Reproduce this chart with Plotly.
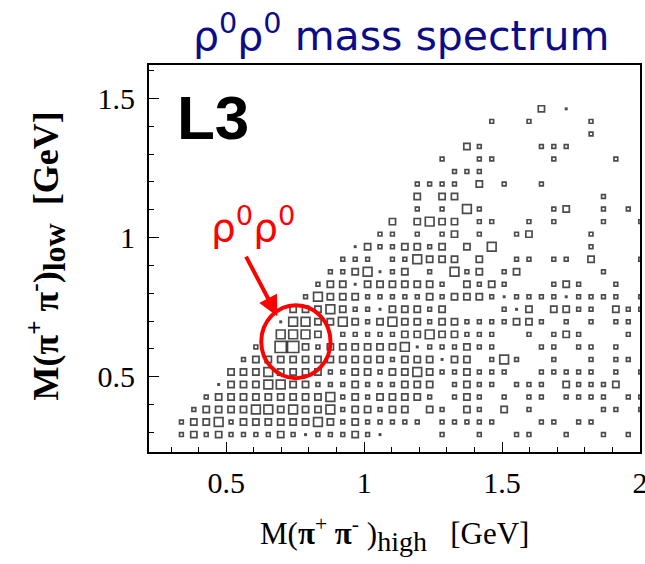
import plotly.graph_objects as go

# ---------------- data ----------------
# 2D histogram: bins of width 0.045 GeV starting at 0.225 GeV on both axes.
BIN_EDGE0 = 0.225
BIN_W = 0.045
# counts per bin; one string per row of M_low (row index starts at 1),
# 40 columns of M_high; "." = empty bin
COUNT_ROWS = [
    ". . 2 3 2 3 2 2 2 2 3 2 1 2 2 2 3 2 1 . . . . 2 . . 2 . . 2 2 . . 2 . . 2 . 2 .",  # row 1
    ". . 2 3 3 4 2 3 3 3 3 3 3 4 3 2 3 2 2 2 2 2 . 2 2 2 2 2 . . . 2 2 . 2 2 . . . .",  # row 2
    ". . . 2 3 3 3 3 4 4 3 4 3 3 4 2 3 3 2 3 3 . 3 2 . 3 2 . 3 . 2 . . . . . 2 2 . 2",  # row 3
    ". . . . 2 3 3 3 3 3 3 3 3 3 4 2 3 2 3 3 3 3 2 . 2 3 2 . 2 . 2 2 . 2 2 2 2 . 2 2",  # row 4
    ". . . . . 1 3 3 3 4 4 3 3 2 2 2 3 2 2 2 3 3 3 . 2 3 2 2 . 2 2 2 . 3 2 2 2 3 . .",  # row 5
    ". . . . . . 3 3 3 4 3 3 3 3 2 2 3 3 2 3 3 4 3 2 2 3 2 2 2 . . 2 2 2 2 2 . 2 . 2",  # row 6
    ". . . . . . . 2 3 3 3 3 3 3 3 3 3 3 3 2 3 3 3 1 3 3 . 2 4 2 . . 2 . . 2 . 2 2 .",  # row 7
    ". . . . . . . . 2 . 5 5 3 2 3 3 3 3 3 3 4 1 2 2 2 3 2 2 . . . 2 2 . 2 2 . 2 . .",  # row 8
    ". . . . . . . . . . 4 4 4 3 . 2 2 2 2 2 3 3 4 3 3 2 2 2 . . 2 . 2 3 2 . . . 2 .",  # row 9
    ". . . . . . . . . . 1 4 4 3 3 4 3 2 3 4 3 3 2 3 3 2 2 2 2 3 3 2 . 2 . 2 . 2 2 .",  # row 10
    ". . . . . . . . . . . 3 3 3 4 3 2 2 1 3 3 3 2 3 . . . . 2 1 3 . 3 3 2 2 . 3 2 2",  # row 11
    ". . . . . . . . . . . . 2 4 3 3 3 2 2 2 2 2 3 2 3 3 3 2 1 2 2 2 2 1 2 2 2 2 . 2",  # row 12
    ". . . . . . . . . . . . . 2 3 3 1 3 3 3 3 3 3 2 . 3 2 3 2 . . . 2 3 2 . . 2 . .",  # row 13
    ". . . . . . . . . . . . . . 2 2 3 4 1 2 3 . 2 . 4 2 3 . 2 3 . . . . . . 2 . . .",  # row 14
    ". . . . . . . . . . . . . . . 2 2 2 . 2 2 4 3 3 3 . 3 . . 2 2 . 2 2 . 3 . . . 2",  # row 15
    ". . . . . . . . . . . . . . . . 1 3 2 2 3 3 2 3 . 3 . 4 . . . . . . . 2 . . . .",  # row 16
    ". . . . . . . . . . . . . . . . . . 2 2 . 2 . 2 3 . 2 . . 2 3 . . . . 2 . . . .",  # row 17
    ". . . . . . . . . . . . . . . . . . . 3 . 3 4 3 3 . 2 2 . . 2 . 2 . . . 2 . . 2",  # row 18
    ". . . . . . . . . . . . . . . . . . . . . 2 . 2 . 4 2 . . . . . 2 3 . . 2 . 2 .",  # row 19
    ". . . . . . . . . . . . . . . . . . . . . 3 . 3 3 . . . . . . . . . . . 2 . . .",  # row 20
    ". . . . . . . . . . . . . . . . . . . . . 2 2 2 2 . 3 . 2 . . 2 . . . . . . . .",  # row 21
    ". . . . . . . . . . . . . . . . . . . . . . . . 2 2 2 . . . . . . . . . . . . .",  # row 22
    ". . . . . . . . . . . . . . . . . . . . . . . 2 . . 2 2 . . . . 2 . . . . 2 . .",  # row 23
    ". . . . . . . . . . . . . . . . . . . . . . . . . 3 2 . . . . 2 2 2 . . . . . .",  # row 24
    ". . . . . . . . . . . . . . . . . . . . . . . . . . . . . . . . . . . 2 . . . .",  # row 25
    ". . . . . . . . . . . . . . . . . . . . . . . . . . . 2 . . 2 . . . . 2 . . . .",  # row 26
    ". . . . . . . . . . . . . . . . . . . . . . . . . . . . . . . 3 . 1 . . . . . .",  # row 27
]
COUNT_MAX = 5

X_RANGE = [0.22, 2.0]
Y_RANGE = [0.23, 1.62]

TITLE = "ρ<sup>0</sup>ρ<sup>0</sup> mass spectrum"
X_TITLE = ("M(<b>π</b><sup>+</sup>&nbsp;<b>π</b><sup>-</sup>&nbsp;)"
           "<sub><span style='font-size:28px'>high</span></sub>&nbsp;&nbsp;&nbsp;[GeV]")
Y_TITLE = ("<b>M(π<sup>+</sup>&nbsp;π<sup>-</sup>)"
           "<sub><span style='font-size:32px'>low</span></sub>&nbsp;&nbsp;[GeV]</b>")

# ---------------- build bins ----------------
xs, ys, cs = [], [], []
for m, row in enumerate(COUNT_ROWS, start=1):
    toks = row.split()
    assert len(toks) == 40, (m, len(toks))
    for n, t in enumerate(toks):
        if t != ".":
            xs.append(BIN_EDGE0 + BIN_W * (n + 0.5))
            ys.append(BIN_EDGE0 + BIN_W * (m + 0.5))
            cs.append(int(t))

W, H = 645, 564
ML, MR, MT, MB = 149, 5, 65, 112
plot_w = W - ML - MR
plot_h = H - MT - MB
px_per_x = plot_w / (X_RANGE[1] - X_RANGE[0])
bin_px = BIN_W * px_per_x
LW = 1.7
sizes = [max(bin_px * c / COUNT_MAX + 0.5 - LW, 0.6) for c in cs]

fig = go.Figure()
fig.add_trace(go.Scatter(
    x=xs, y=ys, mode="markers",
    marker=dict(symbol="square-open", size=sizes, color="#000000",
                line=dict(width=LW, color="#000000")),
    hoverinfo="skip", showlegend=False,
))

serif = "Liberation Serif"
axis_common = dict(
    showline=True, linewidth=2.2, linecolor="black", mirror=True,
    showgrid=False, zeroline=False, automargin=False,
    ticks="inside", ticklen=10, tickwidth=1.3, tickcolor="black",
    tickmode="linear", tick0=0, dtick=0.5,
    ticklabeloverflow="allow",
    tickfont=dict(family=serif, size=30, color="black"),
)
fig.update_xaxes(range=X_RANGE, ticklabelstandoff=3,
                 minor=dict(ticks="inside", ticklen=5, tickwidth=1.2,
                            tickcolor="black", tick0=0, dtick=0.1, showgrid=False),
                 **axis_common)
fig.update_yaxes(range=Y_RANGE, ticklabelstandoff=6,
                 minor=dict(ticks="inside", ticklen=5, tickwidth=1.2,
                            tickcolor="black", tick0=0, dtick=0.1, showgrid=False),
                 **axis_common)

annotations = [
    dict(text=TITLE, x=(401 - ML) / plot_w, y=1 + (MT - 33) / plot_h,
         xref="paper", yref="paper", xanchor="center", yanchor="middle",
         showarrow=False, font=dict(family="DejaVu Sans", size=41, color="#0c0c8a")),
    dict(text="<b>L3</b>", x=(213 - ML) / plot_w, y=1 - (118 - MT) / plot_h,
         xref="paper", yref="paper", xanchor="center", yanchor="middle",
         showarrow=False, font=dict(family="Liberation Sans", size=62, color="black")),
    dict(text="ρ<sup>0</sup>ρ<sup>0</sup>", x=(253 - ML) / plot_w, y=1 - (225 - MT) / plot_h,
         xref="paper", yref="paper", xanchor="center", yanchor="middle",
         showarrow=False, font=dict(family="DejaVu Sans", size=39, color="#ff0000")),
    dict(text=X_TITLE, x=(394 - ML) / plot_w, y=-(534 - (H - MB)) / plot_h,
         xref="paper", yref="paper", xanchor="center", yanchor="middle",
         showarrow=False, font=dict(family=serif, size=31, color="black")),
    dict(text=Y_TITLE, x=(46 - ML) / plot_w, y=(H - MB - 256.5) / plot_h,
         xref="paper", yref="paper", xanchor="center", yanchor="middle", textangle=-90,
         showarrow=False, font=dict(family=serif, size=36, color="black")),
    # arrow pointing to the rho-rho region
    dict(x=0.6855, y=0.718, ax=0.569, ay=0.937, xref="x", yref="y", axref="x", ayref="y",
         text="", showarrow=True, arrowhead=2, arrowsize=1.0, arrowwidth=4,
         arrowcolor="#ff0000"),
]

fig.update_layout(
    width=W, height=H, margin=dict(l=ML, r=MR, t=MT, b=MB, autoexpand=False),
    paper_bgcolor="white", plot_bgcolor="white",
    annotations=annotations,
    shapes=[dict(type="circle", xref="x", yref="y", x0=0.627, x1=0.878,
                 y0=0.4953, y1=0.7575, line=dict(color="#ff0000", width=4))],
)

fig.write_html("out.html")
